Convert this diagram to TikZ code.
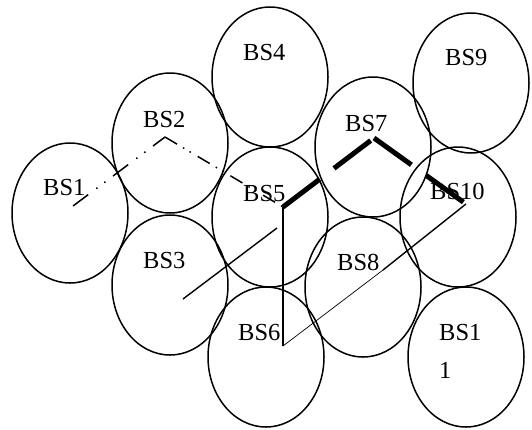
\documentclass[tikz,border=0pt]{standalone}
\usepackage{fontspec}
\setmainfont{Liberation Serif}
\usetikzlibrary{shapes.geometric}
\begin{document}
\begin{tikzpicture}[x=1pt,y=-1pt,
  cell/.style={draw,ellipse,line width=1.5pt,minimum width=116pt,minimum height=140pt,inner sep=0pt},
  bslabel/.style={anchor=base west,inner sep=0pt,font=\fontsize{24.5}{38}\selectfont},
  dashdotdotA/.style={line width=1.5pt,dash pattern=on 19pt off 10pt on 1.5pt off 8.5pt on 1.5pt off 9.5pt},
  dashdotdotB/.style={line width=1.5pt,dash pattern=on 14pt off 7pt on 1.5pt off 6pt on 1.5pt off 8pt},
  thickdash/.style={line width=5pt,dash pattern=on 46pt off 18pt}]
\useasboundingbox (0,0) rectangle (532,429);
\node[cell] (c1) at (70,213) {};
\node[cell] (c2) at (170,143) {};
\node[cell] (c3) at (170,285) {};
\node[cell] (c4) at (270,77) {};
\node[cell] (c5) at (270,217) {};
\node[cell] (c6) at (266,357) {};
\node[cell] (c7) at (373,147) {};
\node[cell] (c8) at (363,287) {};
\node[cell] (c9) at (471,83) {};
\node[cell] (c10) at (458,217) {};
\node[cell] (c11) at (466,357) {};
\node[bslabel] (l1) at (43,195) {BS1};
\node[bslabel] (l2) at (143,127) {BS2};
\node[bslabel] (l3) at (143,268) {BS3};
\node[bslabel] (l4) at (243,60) {BS4};
\node[bslabel] (l5) at (243,201) {BS5};
\node[bslabel] (l6) at (238,340) {BS6};
\node[bslabel] (l7) at (345,131) {BS7};
\node[bslabel] (l8) at (337,270) {BS8};
\node[bslabel] (l9) at (445,65) {BS9};
\node[bslabel] (l10) at (430,199) {BS10};
\node[bslabel,align=left] (l11) at (439,378) {BS1\\1};
\coordinate (p1) at (73,206);
\coordinate (p2) at (165,137);
\coordinate (p5) at (283,207);
\coordinate (p7) at (374,138);
\coordinate (p10) at (466,204);
\coordinate (p6) at (283,346);
\coordinate (pm) at (383,270);
\coordinate (q1) at (183,299);
\coordinate (q2) at (277,228);
\draw[dashdotdotA] (p1) -- (p2);
\draw[dashdotdotB] (p2) -- (p5);
\draw[thickdash] (p5) -- (p7);
\draw[thickdash] (p7) -- (p10);
\draw[line width=1.4pt] (p5) -- (p6);
\draw[line width=0.7pt] (p6) -- (pm);
\draw[line width=1.4pt] (pm) -- (p10);
\draw[line width=1.4pt] (q1) -- (q2);
\end{tikzpicture}
\end{document}
